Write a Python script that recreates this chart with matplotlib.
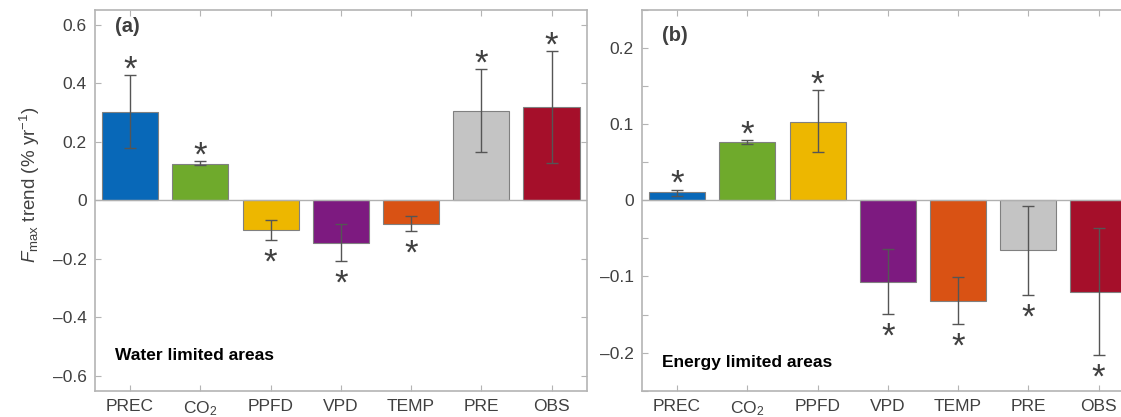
import matplotlib
matplotlib.use("Agg")
import matplotlib.pyplot as plt
from matplotlib.ticker import FixedLocator
import numpy as np

plt.rcParams['font.family'] = ['Liberation Sans', 'DejaVu Sans']
plt.rcParams['mathtext.fontset'] = 'custom'
plt.rcParams['mathtext.rm'] = 'Liberation Sans'
plt.rcParams['mathtext.it'] = 'Liberation Sans:italic'

categories = ['PREC', 'CO$_2$', 'PPFD', 'VPD', 'TEMP', 'PRE', 'OBS']
colors = ['#0868B8', '#6FAA2C', '#EDB700', '#7D1A80', '#D95214', '#C4C4C4', '#A50F2A']

# panel (a) water limited
a_vals = [0.301, 0.125, -0.100, -0.1445, -0.080, 0.305, 0.318]
a_err_hi = [0.427, 0.133, -0.066, -0.080, -0.054, 0.447, 0.510]
a_err_lo = [0.179, 0.120, -0.137, -0.208, -0.105, 0.165, 0.126]

# panel (b) energy limited
b_vals = [0.0106, 0.0765, 0.1034, -0.1069, -0.1323, -0.0655, -0.1204]
b_err_hi = [0.0137, 0.079, 0.1443, -0.0637, -0.101, -0.0074, -0.0365]
b_err_lo = [0.0058, 0.074, 0.0638, -0.1495, -0.163, -0.124, -0.2036]

W, H = 1121, 417
fig = plt.figure(figsize=(W / 100, H / 100), dpi=100)

spine_c = '#B4B4B4'
text_c = '#404040'


def panel(rect, vals, hi, lo, ylim, major, minor, fmt, label, label_y, area, area_y):
    ax = fig.add_axes(rect)
    x = np.arange(1, len(vals) + 1)
    ax.bar(x, vals, width=0.8, color=colors, edgecolor='#808080', linewidth=0.8, zorder=2)
    ax.axhline(0, color='#B0B0B0', lw=1.0, zorder=3)
    for xi, v, h, l in zip(x, vals, hi, lo):
        ax.errorbar([xi], [(h + l) / 2], yerr=[[(h - l) / 2], [(h - l) / 2]],
                    fmt='none', ecolor='#555555', elinewidth=1.0, capsize=4,
                    capthick=1.0, zorder=4)
        if v >= 0:
            ax.annotate('*', (xi, h), xytext=(0, -8), textcoords='offset points',
                        ha='center', va='bottom', fontsize=25, color=text_c, zorder=5)
        else:
            ax.annotate('*', (xi, l), xytext=(0, -28.5), textcoords='offset points',
                        ha='center', va='bottom', fontsize=25, color=text_c, zorder=5)
    ax.set_xlim(0.5, len(vals) + 0.5)
    ax.set_ylim(*ylim)
    ax.set_xticks(x)
    ax.set_xticklabels(categories)
    ax.yaxis.set_major_locator(FixedLocator(major))
    ax.set_yticklabels([fmt(t) for t in major])
    if minor is not None:
        ax.yaxis.set_minor_locator(FixedLocator(minor))
    ax.tick_params(which='both', direction='in', length=4, width=0.8, color=spine_c,
                   top=True, right=True, labelsize=12.5, labelcolor=text_c, pad=6)
    ax.tick_params(axis='x', pad=6, labelsize=12.5)
    for s in ax.spines.values():
        s.set_color(spine_c)
        s.set_linewidth(1.2)
    ax.text(0.04, label_y, label, transform=ax.transAxes, fontsize=14.5, fontweight='bold',
            color=text_c, ha='left', va='center')
    ax.text(0.04, area_y, area, transform=ax.transAxes, fontsize=12.5, fontweight='bold',
            color='black', ha='left', va='center')
    return ax


def fmt_a(t):
    if abs(t) < 1e-9:
        return '0'
    return ('\u2013' if t < 0 else '') + f'{abs(t):.1f}'


axw = 491.7 / W
axh = (390.7 - 10) / H
bottom = 1 - 390.7 / H


def ay(py):
    return (390.7 - py) / (390.7 - 10)


ax1 = panel([95 / W, bottom, axw, axh], a_vals, a_err_hi, a_err_lo, (-0.65, 0.65),
            [-0.6, -0.4, -0.2, 0, 0.2, 0.4, 0.6], None, fmt_a,
            '(a)', ay(26), 'Water limited areas', ay(355))
ax1.set_ylabel('$\\mathit{F}_{\\mathrm{max}}$ trend (% yr$^{-1}$)', fontsize=13.5,
               color=text_c, labelpad=6)
ax1.yaxis.set_label_coords(-0.108, 0.54)

ax2 = panel([642 / W, bottom, axw, axh], b_vals, b_err_hi, b_err_lo, (-0.25, 0.25),
            [-0.2, -0.1, 0, 0.1, 0.2], [-0.25, -0.15, -0.05, 0.05, 0.15, 0.25], fmt_a,
            '(b)', ay(35), 'Energy limited areas', ay(362))

fig.savefig('out.png', dpi=100)
